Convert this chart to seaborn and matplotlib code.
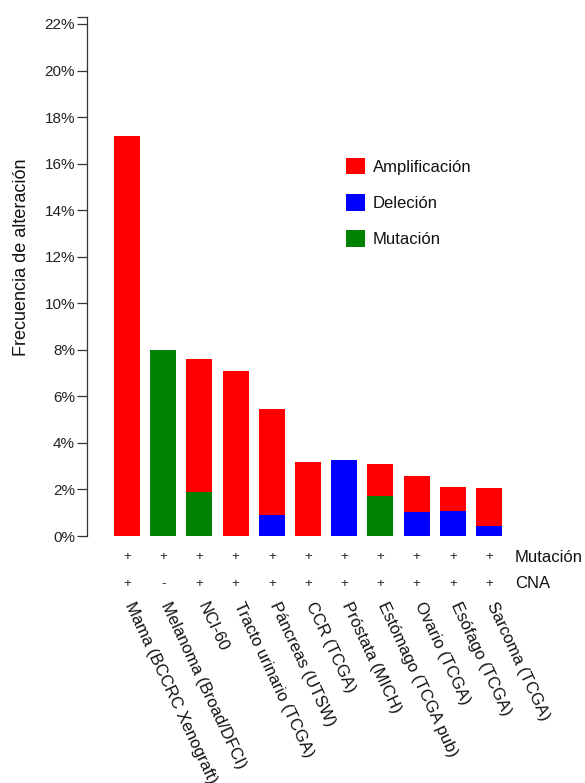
import matplotlib
matplotlib.use("Agg")
import matplotlib.pyplot as plt
from matplotlib.patches import Patch
from matplotlib.transforms import blended_transform_factory
import seaborn as sns
import pandas as pd

# Estudios y frecuencias de alteración (%)
estudios = [
    "Mama (BCCRC Xenograft)", "Melanoma (Broad/DFCI)", "NCI-60",
    "Tracto urinario (TCGA)", "Páncreas (UTSW)", "CCR (TCGA)",
    "Próstata (MICH)", "Estómago (TCGA pub)", "Ovario (TCGA)",
    "Esófago (TCGA)", "Sarcoma (TCGA)",
]
amplificacion = [17.2, 0.0, 5.7, 7.1, 4.55, 3.2, 0.0, 1.38, 1.56, 1.03, 1.63]
delecion = [0.0, 0.0, 0.0, 0.0, 0.9, 0.0, 3.25, 0.0, 1.03, 1.07, 0.43]
mutacion = [0.0, 8.0, 1.9, 0.0, 0.0, 0.0, 0.0, 1.73, 0.0, 0.0, 0.0]
marca_mutacion = ["+"] * 11
marca_cna = ["+", "-", "+", "+", "+", "+", "+", "+", "+", "+", "+"]
yticks = list(range(0, 23, 2))

ROJO, AZUL, VERDE = "#ff0000", "#0000ff", "#008000"

sns.set_theme(style="white")
plt.rcParams["font.family"] = ["Liberation Sans", "DejaVu Sans"]

df = pd.DataFrame({
    "estudio": estudios,
    "amp": amplificacion,
    "del": delecion,
    "mut": mutacion,
})
df["total"] = df["amp"] + df["del"] + df["mut"]

W, H = 585, 783
fig = plt.figure(figsize=(W / 100, H / 100), dpi=100)
ax = fig.add_axes([87 / W, (H - 536) / H, (520 - 87) / W, (536 - 17) / H])

ancho = 0.72
# barra completa (amplificación encima), luego la parte inferior
sns.barplot(data=df, x="estudio", y="total", color=ROJO, saturation=1,
            width=ancho, errorbar=None, ax=ax, linewidth=0)
sns.barplot(data=df, x="estudio", y="del", color=AZUL, saturation=1,
            width=ancho, errorbar=None, ax=ax, linewidth=0)
sns.barplot(data=df, x="estudio", y="mut", color=VERDE, saturation=1,
            width=ancho, errorbar=None, ax=ax, linewidth=0)

paso = 36.2
ax.set_xlim(-(127 - 87) / paso, (520 - 127) / paso)
ax.set_ylim(0, 22.3)
ax.set_yticks(yticks)
ax.set_yticklabels([f"{v}%" for v in yticks], fontsize=11, color="#222222")
ax.set_yticks([22.3], minor=True)
ax.tick_params(axis="y", which="both", length=7.2, width=0.9, color="#333333",
               pad=1.5, left=True)
ax.set_xticks([])
ax.set_xlabel("")
ax.set_ylabel("")
for lado in ["top", "right", "bottom"]:
    ax.spines[lado].set_visible(False)
ax.spines["left"].set_color("#333333")
ax.spines["left"].set_linewidth(0.9)

fig.text(22 / W, 1 - 257 / H, "Frecuencia de alteración", rotation=90,
         ha="center", va="center", fontsize=13, color="#111111")

trans = blended_transform_factory(ax.transData, fig.transFigure)
for i, nombre in enumerate(estudios):
    ax.text(i, 1 - 557 / H, marca_mutacion[i], transform=trans, ha="center",
            va="center", fontsize=9.5, color="#222222", clip_on=False)
    ax.text(i, 1 - 584 / H, marca_cna[i], transform=trans, ha="center",
            va="center", fontsize=9.5, color="#222222", clip_on=False)
    ax.text(i + 0.05, 1 - 603 / H, nombre, transform=trans, rotation=-65,
            rotation_mode="anchor", ha="left", va="center", fontsize=12,
            color="#111111", clip_on=False)

fig.text(515 / W, 1 - 557 / H, "Mutación", ha="left", va="center",
         fontsize=12, color="#111111")
fig.text(515 / W, 1 - 584 / H, "CNA", ha="left", va="center",
         fontsize=12, color="#111111")

handles = [Patch(facecolor=ROJO, edgecolor="none", label="Amplificación"),
           Patch(facecolor=AZUL, edgecolor="none", label="Deleción"),
           Patch(facecolor=VERDE, edgecolor="none", label="Mutación")]
fig.legend(handles=handles, loc="upper left",
           bbox_to_anchor=(346 / W, 1 - 158 / H), frameon=False,
           borderpad=0, borderaxespad=0, fontsize=12, handlelength=1.14,
           handleheight=1.14, labelspacing=1.16, handletextpad=0.45,
           labelcolor="#111111")

fig.savefig("out.png", dpi=100)
